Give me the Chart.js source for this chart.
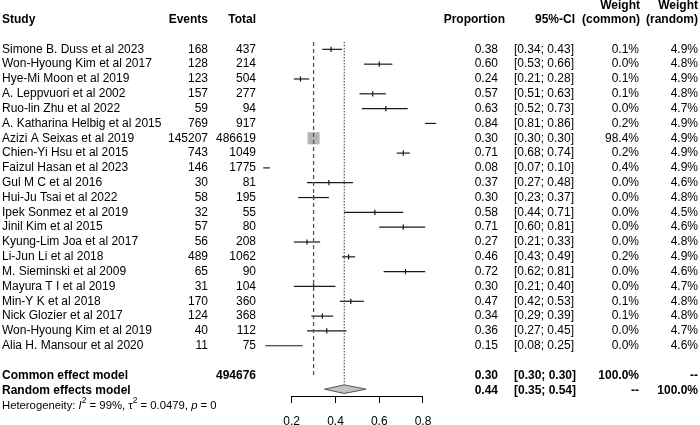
<!DOCTYPE html>
<html>
<head>
<meta charset="utf-8">
<script src="https://cdn.jsdelivr.net/npm/chart.js@4.4.1/dist/chart.umd.min.js"></script>
<style>
  html, body { margin: 0; padding: 0; background: #fff; }
  #wrap { width: 700px; height: 425px; }
</style>
</head>
<body>
<div id="wrap"><canvas id="forest" width="700" height="425"></canvas></div>
<script>
// Dados do forest plot
const studies = ['Simone B. Duss et al 2023', 'Won-Hyoung Kim et al 2017', 'Hye-Mi Moon et al 2019',
  'A. Leppvuori et al 2002', 'Ruo-lin Zhu et al 2022', 'A. Katharina Helbig et al 2015',
  'Azizi A Seixas et al 2019', 'Chien-Yi Hsu et al 2015', 'Faizul Hasan et al 2023',
  'Gul M C et al 2016', 'Hui-Ju Tsai et al 2022', 'Ipek Sonmez et al 2019', 'Jinil Kim et al 2015',
  'Kyung-Lim Joa et al 2017', 'Li-Jun Li et al 2018', 'M. Sieminski et al 2009', 'Mayura T I et al 2019',
  'Min-Y K et al 2018', 'Nick Glozier et al 2017', 'Won-Hyoung Kim et al 2019', 'Alia H. Mansour et al 2020'];
const events = [168, 128, 123, 157, 59, 769, 145207, 743, 146, 30, 58, 32, 57, 56, 489, 65, 31, 170, 124, 40, 11];
const totals = [437, 214, 504, 277, 94, 917, 486619, 1049, 1775, 81, 195, 55, 80, 208, 1062, 90, 104, 360, 368, 112, 75];
const proportion = [0.38, 0.60, 0.24, 0.57, 0.63, 0.84, 0.30, 0.71, 0.08, 0.37, 0.30, 0.58, 0.71, 0.27, 0.46, 0.72, 0.30, 0.47, 0.34, 0.36, 0.15];
const ciLower = [0.34, 0.53, 0.21, 0.51, 0.52, 0.81, 0.30, 0.68, 0.07, 0.27, 0.23, 0.44, 0.60, 0.21, 0.43, 0.62, 0.21, 0.42, 0.29, 0.27, 0.08];
const ciUpper = [0.43, 0.66, 0.28, 0.63, 0.73, 0.86, 0.30, 0.74, 0.10, 0.48, 0.37, 0.71, 0.81, 0.33, 0.49, 0.81, 0.40, 0.53, 0.39, 0.45, 0.25];
const weightCommon = [0.1, 0.0, 0.1, 0.1, 0.0, 0.2, 98.4, 0.2, 0.4, 0.0, 0.0, 0.0, 0.0, 0.0, 0.2, 0.0, 0.0, 0.1, 0.1, 0.0, 0.0];
const weightRandom = [4.9, 4.8, 4.9, 4.8, 4.7, 4.9, 4.9, 4.9, 4.9, 4.6, 4.8, 4.5, 4.6, 4.8, 4.9, 4.6, 4.7, 4.8, 4.8, 4.7, 4.6];
const commonModel = [0.30, 0.30, 0.30]; // estimativa, inferior, superior
const randomModel = [0.44, 0.35, 0.54];
const totalN = 494676;
const xTicks = [0.2, 0.4, 0.6, 0.8];

const ROW_COMMON = 22, ROW_RANDOM = 23, ROW_HET = 24;
const FONT = '"Liberation Sans", Arial, sans-serif';

// Linhas dos intervalos de confiança
const ciSets = studies.map((s, i) => ({
  data: [{ x: ciLower[i], y: i }, { x: ciUpper[i], y: i }],
  showLine: true, borderColor: '#1a1a1a', borderWidth: 1.2,
  pointRadius: 0, clip: false
}));

// Tabela de texto desenhada em volta do gráfico
const tablePlugin = {
  id: 'forestTable',
  afterDraw(chart) {
    const ctx = chart.ctx;
    const ys = chart.scales.y;
    const reg = '12px ' + FONT, bold = 'bold 12px ' + FONT;
    ctx.save();
    ctx.fillStyle = '#000';
    ctx.textBaseline = 'middle';
    const put = (txt, x, row, align, font) => {
      ctx.font = font || reg;
      ctx.textAlign = align;
      ctx.fillText(txt, x, ys.getPixelForValue(row));
    };

    // cabeçalho
    put('Study', 2, -2, 'left', bold);
    put('Events', 208, -2, 'right', bold);
    put('Total', 256, -2, 'right', bold);
    put('Proportion', 505, -2, 'right', bold);
    put('95%-CI', 575, -2, 'right', bold);
    put('Weight', 640, -2.97, 'right', bold);
    put('(common)', 640, -2, 'right', bold);
    put('Weight', 698, -2.97, 'right', bold);
    put('(random)', 698, -2, 'right', bold);

    studies.forEach((s, i) => {
      put(s, 2, i, 'left');
      put(String(events[i]), 208, i, 'right');
      put(String(totals[i]), 256, i, 'right');
      put(proportion[i].toFixed(2), 498, i, 'right');
      put('[' + ciLower[i].toFixed(2) + '; ' + ciUpper[i].toFixed(2) + ']', 514, i, 'left');
      put(weightCommon[i].toFixed(1) + '%', 639, i, 'right');
      put(weightRandom[i].toFixed(1) + '%', 698, i, 'right');
    });

    put('Common effect model', 2, ROW_COMMON, 'left', bold);
    put(String(totalN), 256, ROW_COMMON, 'right', bold);
    put(commonModel[0].toFixed(2), 498, ROW_COMMON, 'right', bold);
    put('[' + commonModel[1].toFixed(2) + '; ' + commonModel[2].toFixed(2) + ']', 514, ROW_COMMON, 'left', bold);
    put('100.0%', 639, ROW_COMMON, 'right', bold);
    put('--', 698, ROW_COMMON, 'right', bold);

    put('Random effects model', 2, ROW_RANDOM, 'left', bold);
    put(randomModel[0].toFixed(2), 498, ROW_RANDOM, 'right', bold);
    put('[' + randomModel[1].toFixed(2) + '; ' + randomModel[2].toFixed(2) + ']', 514, ROW_RANDOM, 'left', bold);
    put('--', 639, ROW_RANDOM, 'right', bold);
    put('100.0%', 698, ROW_RANDOM, 'right', bold);

    // heterogeneidade com itálico e sobrescritos
    let hx = 2;
    const hy = ys.getPixelForValue(ROW_HET) + 0.5;
    ctx.textAlign = 'left';
    const seg = (t, f, dy) => {
      ctx.font = f;
      ctx.fillText(t, hx, hy + (dy || 0));
      hx += ctx.measureText(t).width;
    };
    const f = '11.3px ' + FONT, fi = 'italic 11.3px ' + FONT, fs = '8.5px ' + FONT;
    seg('Heterogeneity: ', f);
    seg('I', fi); seg('2', fs, -5);
    seg(' = 99%, ', f);
    seg('\u03C4', f); seg('2', fs, -5);
    seg(' = 0.0479, ', f);
    seg('p', fi);
    seg(' = 0', f);
    ctx.restore();
  }
};

const chart = new Chart(document.getElementById('forest'), {
  type: 'scatter',
  data: {
    datasets: [
      // linha do efeito comum (tracejada)
      {
        data: [{ x: commonModel[0], y: -0.5 }, { x: commonModel[0], y: 22.15 }],
        showLine: true, borderColor: '#555', borderWidth: 1.3, borderDash: [4, 3],
        pointRadius: 0, clip: false
      },
      // linha do efeito aleatório (pontilhada)
      {
        data: [{ x: randomModel[0], y: -0.5 }, { x: randomModel[0], y: 22.62 }],
        showLine: true, borderColor: '#333', borderWidth: 1, borderDash: [1.5, 1.5],
        pointRadius: 0, clip: false
      },
      ...ciSets,
      // quadrados proporcionais ao peso (comum)
      {
        data: proportion.map((p, i) => ({ x: p, y: i })),
        pointStyle: 'rect',
        pointRadius: c => Math.sqrt(weightCommon[c.dataIndex] / 100) * 8.6,
        backgroundColor: '#b5b5b5', borderColor: '#b5b5b5', borderWidth: 0, clip: false
      },
      // marcas da estimativa pontual
      {
        data: proportion.map((p, i) => ({ x: p, y: i })),
        pointStyle: 'line', rotation: 90, pointRadius: 2.6,
        borderColor: c => weightCommon[c.dataIndex] > 50 ? '#f2f2f2' : '#111',
        borderWidth: 1.2, clip: false
      },
      // diamante do modelo aleatório
      {
        data: [
          { x: randomModel[1], y: 22.93 }, { x: randomModel[0], y: 22.64 },
          { x: randomModel[2], y: 22.93 }, { x: randomModel[0], y: 23.22 },
          { x: randomModel[1], y: 22.93 }
        ],
        showLine: true, fill: 'shape', tension: 0,
        backgroundColor: '#c2c2c2', borderColor: '#555', borderWidth: 1,
        pointRadius: 0, clip: false
      }
    ]
  },
  options: {
    responsive: false,
    animation: false,
    layout: { padding: { left: 291.7, right: 277, top: 39.7, bottom: 0 } },
    plugins: { legend: { display: false }, tooltip: { enabled: false } },
    scales: {
      x: {
        type: 'linear', min: 0.2, max: 0.8,
        afterBuildTicks: s => { s.ticks = xTicks.map(v => ({ value: v })); },
        afterFit: s => { s.height = 29; },
        border: { display: true, color: '#000', width: 1 },
        grid: { drawOnChartArea: false, drawTicks: true, tickLength: 7, color: '#000', lineWidth: 1 },
        ticks: {
          color: '#000', padding: 11, maxRotation: 0,
          font: { family: FONT, size: 12 },
          callback: v => v.toFixed(1)
        }
      },
      y: {
        type: 'linear', display: false, reverse: true, min: -0.65, max: 23.39
      }
    }
  },
  plugins: [tablePlugin]
});
</script>
</body>
</html>
